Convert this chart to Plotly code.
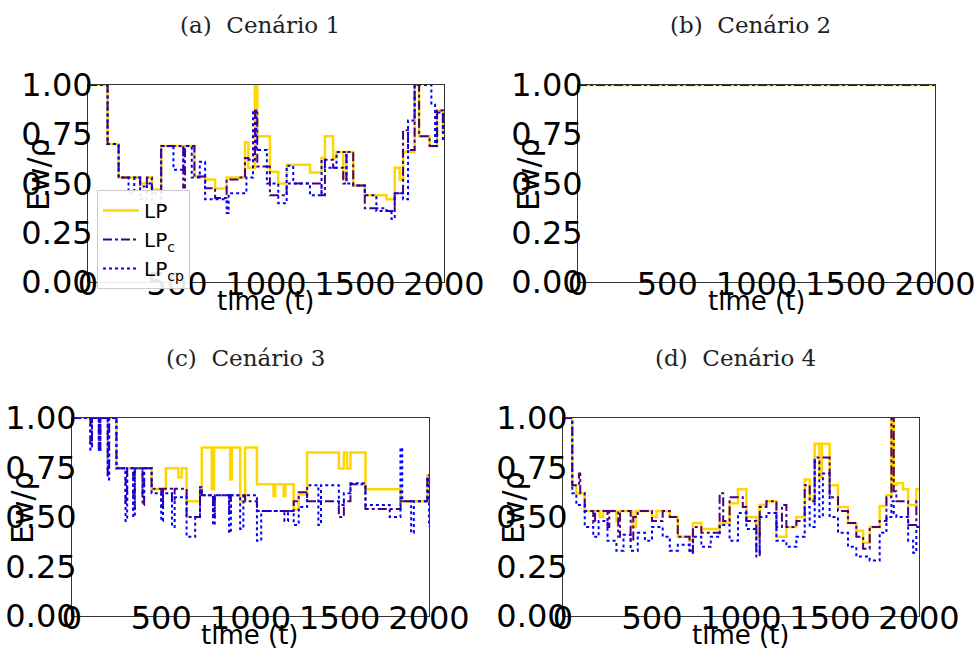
import plotly.graph_objects as go

# ---------------- data ----------------
# Panel (a) Cenário 1
a_lp_x = [0,110,172,293,331,359,411,598,658,714,779,882,901,938,951,1022,1069,1116,1247,1312,1331,1377,1396,1434,1452,1490,1555,1677,1723,1751,1770,1835,1860,1919,1961,1994,2000]
a_lp_y = [1.00,0.70,0.53,0.50,0.53,0.47,0.69,0.535,0.52,0.475,0.53,0.71,0.58,1.00,0.74,0.56,0.50,0.595,0.556,0.63,0.74,0.63,0.66,0.53,0.66,0.49,0.44,0.42,0.58,0.52,0.66,1.00,0.74,0.69,0.87,0.76,0.76]
a_lpc_x = [0,110,172,293,331,359,411,535,545,598,658,714,779,840,882,901,938,951,1022,1116,1312,1331,1377,1434,1452,1490,1555,1677,1723,1770,1798,1835,1860,1919,1961,1994,2000]
a_lpc_y = [1.00,0.70,0.53,0.485,0.53,0.45,0.69,0.48,0.69,0.535,0.476,0.426,0.52,0.53,0.63,0.62,0.87,0.586,0.44,0.50,0.44,0.62,0.58,0.50,0.66,0.49,0.375,0.36,0.45,0.77,0.67,1.00,0.74,0.69,0.87,0.76,0.76]
a_lpcp_x = [0,110,172,228,260,293,331,359,411,480,536,583,628,658,714,779,790,890,927,945,1005,1069,1116,1153,1247,1312,1331,1396,1452,1490,1555,1620,1705,1723,1770,1798,1835,1929,1950,1961,1994,2000]
a_lpcp_y = [1.00,0.70,0.53,0.45,0.53,0.42,0.50,0.40,0.69,0.57,0.69,0.53,0.61,0.42,0.42,0.35,0.45,0.53,0.87,0.67,0.50,0.40,0.59,0.50,0.44,0.62,0.58,0.66,0.50,0.49,0.44,0.36,0.32,0.45,0.42,0.82,1.00,0.90,0.69,0.86,0.72,0.72]

# Panel (b) Cenário 2
b_lp_x = [0,2000]
b_lp_y = [1.0,1.0]
b_lpc_x = [0,2000]
b_lpc_y = [1.0,1.0]
b_lpcp_x = [0,2000]
b_lpcp_y = [1.0,1.0]

# Panel (c) Cenário 3
c_lp_x = [0,249,446,526,596,614,642,717,727,783,796,886,895,942,970,1036,1129,1139,1186,1195,1242,1270,1317,1495,1523,1541,1560,1644,1841,1991,2000]
c_lp_y = [1.00,0.746,0.64,0.746,0.70,0.746,0.58,0.63,0.851,0.64,0.851,0.69,0.851,0.58,0.851,0.665,0.606,0.665,0.606,0.665,0.538,0.614,0.826,0.745,0.826,0.745,0.826,0.64,0.58,0.71,0.71]
c_lpc_x = [0,103,112,150,159,200,208,249,300,309,343,352,395,404,446,500,510,560,575,642,717,727,790,800,880,890,970,1036,1242,1270,1317,1495,1523,1560,1644,1841,1991,2000]
c_lpc_y = [1.00,0.86,1.00,0.85,1.00,0.71,1.00,0.746,0.57,0.746,0.54,0.746,0.56,0.746,0.643,0.55,0.643,0.58,0.643,0.50,0.643,0.61,0.50,0.61,0.52,0.61,0.58,0.53,0.58,0.625,0.58,0.50,0.58,0.665,0.54,0.58,0.71,0.71]
c_lpcp_x = [0,103,112,150,159,200,208,249,300,309,343,352,395,404,446,500,510,560,575,642,690,717,727,790,800,880,890,942,960,1036,1060,1190,1210,1242,1270,1317,1380,1395,1495,1523,1560,1644,1780,1840,1850,1900,1915,1991,2000]
c_lpcp_y = [1.00,0.84,1.00,0.83,1.00,0.69,1.00,0.746,0.48,0.746,0.50,0.746,0.60,0.746,0.62,0.48,0.62,0.45,0.60,0.40,0.50,0.65,0.61,0.46,0.61,0.42,0.61,0.44,0.61,0.38,0.53,0.48,0.53,0.46,0.55,0.66,0.46,0.66,0.56,0.62,0.67,0.56,0.50,0.85,0.58,0.42,0.58,0.70,0.45]

# Panel (d) Cenário 4
d_lp_x = [0,52,75,122,206,225,300,320,390,410,500,525,600,645,711,730,777,880,936,983,1030,1086,1105,1143,1199,1255,1311,1358,1386,1414,1440,1455,1498,1545,1601,1648,1686,1723,1779,1817,1845,1858,1873,1910,1939,1967,1985,2000]
d_lp_y = [1.00,0.66,0.62,0.53,0.50,0.53,0.48,0.53,0.45,0.53,0.50,0.53,0.50,0.40,0.38,0.47,0.44,0.47,0.57,0.64,0.50,0.40,0.56,0.58,0.40,0.45,0.50,0.69,0.59,0.87,0.70,0.87,0.66,0.55,0.47,0.43,0.37,0.45,0.555,0.61,1.00,0.66,0.67,0.64,0.56,0.56,0.64,0.64]
d_lpc_x = [0,52,90,97,122,170,180,250,260,310,320,380,395,420,500,560,600,645,711,730,777,880,900,936,983,1010,1030,1086,1105,1143,1199,1230,1255,1311,1358,1386,1414,1498,1545,1601,1648,1686,1723,1779,1817,1845,1858,1873,1939,1967,1985,2000]
d_lpc_y = [1.00,0.66,0.72,0.62,0.53,0.47,0.53,0.45,0.53,0.40,0.53,0.38,0.50,0.53,0.48,0.53,0.50,0.40,0.33,0.45,0.42,0.62,0.48,0.60,0.60,0.55,0.48,0.30,0.55,0.58,0.45,0.56,0.45,0.48,0.66,0.58,0.80,0.60,0.53,0.47,0.40,0.34,0.45,0.48,0.60,1.00,0.63,0.58,0.46,0.46,0.58,0.58]
d_lpcp_x = [0,52,75,122,170,200,250,300,340,380,420,460,500,560,600,645,711,730,777,830,880,936,983,1030,1086,1105,1143,1199,1255,1311,1358,1386,1414,1440,1460,1498,1545,1601,1648,1686,1723,1779,1817,1845,1858,1873,1939,1967,1985,2000]
d_lpcp_y = [1.00,0.62,0.56,0.45,0.40,0.48,0.38,0.33,0.41,0.33,0.42,0.38,0.45,0.40,0.33,0.36,0.32,0.40,0.35,0.40,0.46,0.38,0.52,0.44,0.32,0.50,0.52,0.38,0.35,0.40,0.55,0.45,0.78,0.50,0.72,0.50,0.42,0.35,0.30,0.30,0.28,0.42,0.50,0.58,0.52,0.50,0.38,0.32,0.45,0.45]

series_names = ["LP", "LP<sub>c</sub>", "LP<sub>cp</sub>"]
panel_titles = ["(a)  Cenário 1", "(b)  Cenário 2", "(c)  Cenário 3", "(d)  Cenário 4"]
x_title = "time (t)"
y_title = "Ew/ρ"
x_tickvals = [0, 500, 1000, 1500, 2000]
x_ticktext = ["0", "500", "1000", "1500", "2000"]
y_tickvals = [0, 0.25, 0.5, 0.75, 1.0]
y_ticktext = ["0.00", "0.25", "0.50", "0.75", "1.00"]

panels = [
    [(a_lp_x, a_lp_y), (a_lpc_x, a_lpc_y), (a_lpcp_x, a_lpcp_y)],
    [(b_lp_x, b_lp_y), (b_lpc_x, b_lpc_y), (b_lpcp_x, b_lpcp_y)],
    [(c_lp_x, c_lp_y), (c_lpc_x, c_lpc_y), (c_lpcp_x, c_lpcp_y)],
    [(d_lp_x, d_lp_y), (d_lpc_x, d_lpc_y), (d_lpcp_x, d_lpcp_y)],
]

# ---------------- styling ----------------
W, H = 976, 649
styles = [
    dict(color="#FFD700", width=2.5, dash="solid"),
    dict(color="#4B0082", width=2, dash="dashdot"),
    dict(color="#0000FF", width=2, dash="dot"),
]
# pixel boxes (left, right, top, bottom)
boxes = [(88, 444, 85, 282), (578, 935, 85, 282), (72, 429, 418, 616), (563, 919, 418, 616)]
title_pos = [(260, 25), (750, 25), (245, 358), (735, 358)]

fig = go.Figure()
for p, series in enumerate(panels):
    xa = "x" if p == 0 else f"x{p+1}"
    ya = "y" if p == 0 else f"y{p+1}"
    for s, (xs, ys) in enumerate(series):
        fig.add_trace(go.Scatter(
            x=xs, y=ys, mode="lines", line_shape="hv",
            line=styles[s], name=series_names[s],
            showlegend=(p == 0), xaxis=xa, yaxis=ya,
        ))

layout = dict(
    width=W, height=H, margin=dict(l=0, r=0, t=0, b=0, autoexpand=False),
    paper_bgcolor="white", plot_bgcolor="white",
    font=dict(family="DejaVu Sans", color="black"),
    showlegend=True,
    legend=dict(
        x=97 / W, y=1 - 190 / H, xanchor="left", yanchor="top",
        bgcolor="rgba(255,255,255,0.9)", bordercolor="#cccccc", borderwidth=1,
        font=dict(family="DejaVu Sans", size=20, color="black"),
        tracegroupgap=0, itemwidth=36,
    ),
)
annotations = []
for p, (l, r, t, b) in enumerate(boxes):
    xk = "xaxis" if p == 0 else f"xaxis{p+1}"
    yk = "yaxis" if p == 0 else f"yaxis{p+1}"
    anchor_x = "y" if p == 0 else f"y{p+1}"
    anchor_y = "x" if p == 0 else f"x{p+1}"
    layout[xk] = dict(
        domain=[l / W, r / W], range=[0, 2000], anchor=anchor_x,
        showgrid=False, zeroline=False, showline=True, mirror=True,
        linecolor="#333333", linewidth=1, ticks="", automargin=False,
        tickvals=x_tickvals, ticktext=x_ticktext,
        tickfont=dict(family="DejaVu Sans", size=32, color="black"),
        ticklabelstandoff=-26,
    )
    layout[yk] = dict(
        domain=[1 - b / H, 1 - t / H], range=[0, 1.0], anchor=anchor_y,
        showgrid=False, zeroline=False, showline=True, mirror=True,
        linecolor="#333333", linewidth=1, ticks="", automargin=False,
        tickvals=y_tickvals, ticktext=y_ticktext,
        tickfont=dict(family="DejaVu Sans", size=32, color="black"),
        ticklabelstandoff=-12,
    )
    tx, ty = title_pos[p]
    annotations.append(dict(
        x=tx / W, y=1 - ty / H, xref="paper", yref="paper", showarrow=False,
        text=panel_titles[p], xanchor="center", yanchor="middle",
        font=dict(family="DejaVu Serif", size=23, color="#222222"),
    ))
    annotations.append(dict(
        x=(l + r) / 2 / W, y=1 - (b + 19) / H, xref="paper", yref="paper",
        showarrow=False, text=x_title, xanchor="center", yanchor="middle",
        font=dict(family="DejaVu Sans", size=26, color="black"),
    ))
    annotations.append(dict(
        x=(l - 50) / W, y=1 - (t + 90) / H, xref="paper", yref="paper",
        showarrow=False, text=y_title, textangle=-90,
        xanchor="center", yanchor="middle",
        font=dict(family="DejaVu Sans", size=30, color="black"),
    ))
layout["annotations"] = annotations
fig.update_layout(**layout)

fig.write_html("out.html")
